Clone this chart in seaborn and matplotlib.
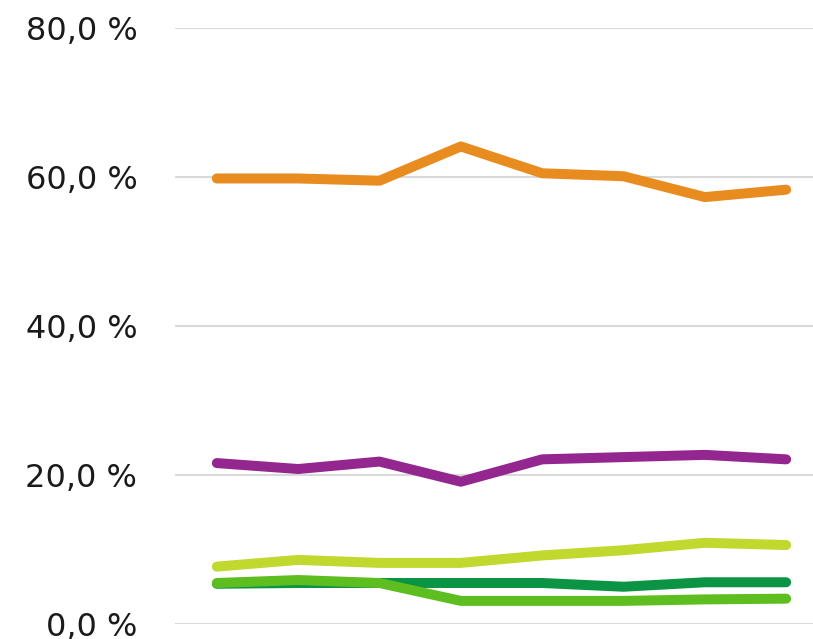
import pandas as pd
import matplotlib.pyplot as plt
import seaborn as sns
from matplotlib.ticker import FuncFormatter

# Данные (в процентах)
periods = [1, 2, 3, 4, 5, 6, 7, 8]
orange = [59.8, 59.8, 59.5, 64.1, 60.5, 60.1, 57.3, 58.3]
purple = [21.6, 20.8, 21.8, 19.1, 22.1, 22.4, 22.7, 22.1]
light_green = [7.7, 8.6, 8.2, 8.2, 9.2, 9.9, 10.9, 10.6]
dark_green = [5.4, 5.5, 5.5, 5.5, 5.5, 5.0, 5.6, 5.6]
mid_green = [5.5, 5.9, 5.5, 3.1, 3.1, 3.1, 3.3, 3.4]

series_names = ['orange', 'purple', 'light_green', 'dark_green', 'mid_green']
series_values = [orange, purple, light_green, dark_green, mid_green]
colors = ['#E88C1F', '#93278F', '#C1D82F', '#0B9444', '#5FBE1F']

df = pd.DataFrame({
    'period': periods * len(series_names),
    'value': sum(series_values, []),
    'series': [n for n in series_names for _ in periods],
})

sns.set_style("white")
plt.rcParams['font.family'] = ['DejaVu Sans']

fig = plt.figure(figsize=(8.13, 6.39), dpi=100)
ax = fig.add_axes([0.215, 0.0235, 0.785, 0.9327])

sns.lineplot(data=df, x='period', y='value', hue='series',
             palette=dict(zip(series_names, colors)),
             linewidth=7.2, legend=False, ax=ax,
             solid_capstyle='round', solid_joinstyle='round')

ax.set_ylim(0, 80)
ax.set_xlim(0.483, 8.33)
ax.set_yticks([0, 20, 40, 60, 80])
ax.yaxis.set_major_formatter(FuncFormatter(lambda v, p: f"{v:.1f} %".replace('.', ',')))
ax.set_xticks([])
ax.set_xlabel('')
ax.set_ylabel('')
ax.yaxis.grid(True, color='#D9D9D9', linewidth=1.5)
ax.set_axisbelow(True)
for s in ax.spines.values():
    s.set_visible(False)
ax.tick_params(axis='y', length=0, pad=27, labelsize=23, labelcolor='#1a1a1a')

fig.savefig('out.png', dpi=100)
